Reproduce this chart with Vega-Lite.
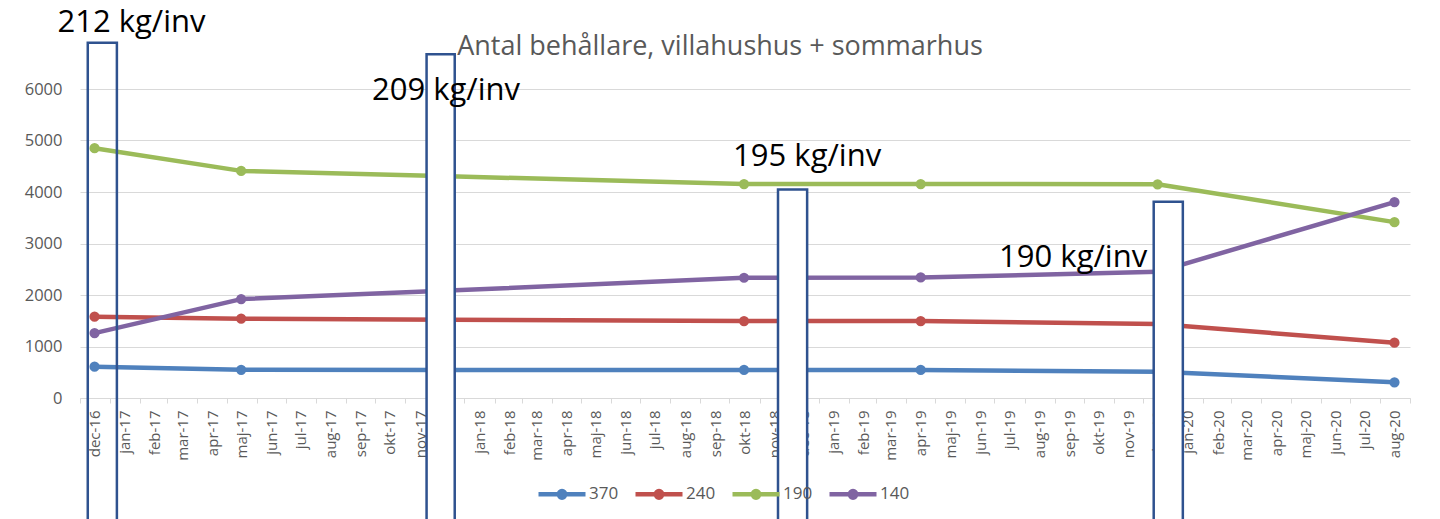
{
  "$schema": "https://vega.github.io/schema/vega-lite/v6.json",
  "width": 1330,
  "height": 309,
  "autosize": {"type": "none"},
  "padding": {"left": 80, "top": 89, "right": 30, "bottom": 121},
  "background": "white",
  "config": {"view": {"stroke": null}, "font": "Open Sans"},
  "title": {
    "text": "Antal behållare, villahushus + sommarhus",
    "font": "Open Sans",
    "fontSize": 27,
    "fontWeight": "normal",
    "color": "#595959",
    "anchor": "middle",
    "frame": "group",
    "baseline": "alphabetic",
    "offset": -75,
    "dx": -25
  },
  "datasets": {
    "antal": [
      {"datum": "2016-12-16", "serie": "370", "antal": 608},
      {"datum": "2017-05-16", "serie": "370", "antal": 548},
      {"datum": "2017-12-16", "serie": "370", "antal": 545},
      {"datum": "2018-10-16", "serie": "370", "antal": 545},
      {"datum": "2019-04-16", "serie": "370", "antal": 545},
      {"datum": "2019-12-16", "serie": "370", "antal": 510},
      {"datum": "2020-08-16", "serie": "370", "antal": 305},
      {"datum": "2016-12-16", "serie": "240", "antal": 1580},
      {"datum": "2017-05-16", "serie": "240", "antal": 1540},
      {"datum": "2017-12-16", "serie": "240", "antal": 1520},
      {"datum": "2018-10-16", "serie": "240", "antal": 1495},
      {"datum": "2019-04-16", "serie": "240", "antal": 1495},
      {"datum": "2019-12-16", "serie": "240", "antal": 1435},
      {"datum": "2020-08-16", "serie": "240", "antal": 1075},
      {"datum": "2016-12-16", "serie": "190", "antal": 4850},
      {"datum": "2017-05-16", "serie": "190", "antal": 4410},
      {"datum": "2017-12-16", "serie": "190", "antal": 4305},
      {"datum": "2018-10-16", "serie": "190", "antal": 4155},
      {"datum": "2019-04-16", "serie": "190", "antal": 4155},
      {"datum": "2019-12-16", "serie": "190", "antal": 4150},
      {"datum": "2020-08-16", "serie": "190", "antal": 3415},
      {"datum": "2016-12-16", "serie": "140", "antal": 1260},
      {"datum": "2017-05-16", "serie": "140", "antal": 1920},
      {"datum": "2017-12-16", "serie": "140", "antal": 2085},
      {"datum": "2018-10-16", "serie": "140", "antal": 2335},
      {"datum": "2019-04-16", "serie": "140", "antal": 2340},
      {"datum": "2019-12-16", "serie": "140", "antal": 2450},
      {"datum": "2020-08-16", "serie": "140", "antal": 3805}
    ],
    "notering": [
      {"etikett": "212 kg/inv", "kg": 212, "fran": "2016-12-09", "till": "2017-01-08", "hojd": 6900, "textdatum": "2017-01-23", "texty": 7105},
      {"etikett": "209 kg/inv", "kg": 209, "fran": "2017-11-23", "till": "2017-12-22", "hojd": 6675, "textdatum": "2017-12-13", "texty": 5785},
      {"etikett": "195 kg/inv", "kg": 195, "fran": "2018-11-20", "till": "2018-12-20", "hojd": 4050, "textdatum": "2018-12-20", "texty": 4510},
      {"etikett": "190 kg/inv", "kg": 190, "fran": "2019-12-12", "till": "2020-01-11", "hojd": 3810, "textdatum": "2019-09-20", "texty": 2550}
    ]
  },
  "layer": [
    {
      "data": {"name": "antal"},
      "mark": {"type": "line", "strokeWidth": 4.5, "strokeCap": "round", "strokeJoin": "round"},
      "encoding": {
        "x": {
          "field": "datum",
          "type": "temporal",
          "scale": {
            "type": "utc",
            "domain": [
              {"year": 2016, "month": 12, "date": 1, "utc": true},
              {"year": 2020, "month": 9, "date": 1, "utc": true}
            ]
          },
          "axis": {
            "title": null,
            "tickCount": {"interval": "month", "step": 1},
            "grid": false,
            "labelAngle": -90,
            "labelAlign": "right",
            "labelBaseline": "middle",
            "labelOffset": 14.8,
            "labelPadding": 7,
            "labelFont": "Open Sans",
            "labelFontSize": 15,
            "labelColor": "#595959",
            "labelOverlap": false,
            "labelFlush": false,
            "labelBound": false,
            "tickColor": "#D9D9D9",
            "tickSize": 5,
            "domainColor": "#D9D9D9",
            "domainWidth": 1,
            "labelExpr": "(utcyear(datum.value) == 2020 && utcmonth(datum.value) == 8) ? '' : ['jan','feb','mar','apr','maj','jun','jul','aug','sep','okt','nov','dec'][utcmonth(datum.value)] + '-' + utcFormat(datum.value, '%y')"
          }
        },
        "y": {
          "field": "antal",
          "type": "quantitative",
          "scale": {"domain": [0, 6000], "nice": false},
          "axis": {
            "title": null,
            "values": [0, 1000, 2000, 3000, 4000, 5000, 6000],
            "format": "d",
            "domain": false,
            "ticks": false,
            "grid": true,
            "gridColor": "#D9D9D9",
            "gridWidth": 1,
            "labelFont": "Open Sans",
            "labelFontSize": 16.5,
            "labelColor": "#595959",
            "labelPadding": 18
          }
        },
        "color": {
          "field": "serie",
          "type": "nominal",
          "scale": {"domain": ["370", "240", "190", "140"], "range": ["#4F81BD", "#C0504D", "#9BBB59", "#8064A2"]},
          "legend": {
            "orient": "none",
            "legendX": 456,
            "legendY": 379,
            "direction": "horizontal",
            "title": null,
            "symbolType": "M-1,0H1M-0.14,0A0.14,0.14,0,1,1,0.14,0A0.14,0.14,0,1,1,-0.14,0Z",
            "symbolSize": 2209,
            "symbolStrokeWidth": 4.5,
            "labelFont": "Open Sans",
            "labelFontSize": 17,
            "labelColor": "#595959",
            "labelOffset": 1,
            "columnPadding": 7,
            "gridAlign": "all",
            "padding": 0,
            "zindex": -1
          }
        }
      }
    },
    {
      "data": {"name": "antal"},
      "mark": {"type": "point", "shape": "circle", "filled": true, "size": 33, "strokeWidth": 4.5, "opacity": 1},
      "encoding": {
        "x": {"field": "datum", "type": "temporal", "scale": {"type": "utc"}},
        "y": {"field": "antal", "type": "quantitative"},
        "color": {
          "field": "serie",
          "type": "nominal",
          "scale": {"domain": ["370", "240", "190", "140"], "range": ["#4F81BD", "#C0504D", "#9BBB59", "#8064A2"]},
          "legend": {
            "orient": "none",
            "legendX": 456,
            "legendY": 379,
            "direction": "horizontal",
            "title": null,
            "symbolType": "M-1,0H1M-0.14,0A0.14,0.14,0,1,1,0.14,0A0.14,0.14,0,1,1,-0.14,0Z",
            "symbolSize": 2209,
            "symbolStrokeWidth": 4.5,
            "labelFont": "Open Sans",
            "labelFontSize": 17,
            "labelColor": "#595959",
            "labelOffset": 1,
            "columnPadding": 7,
            "gridAlign": "all",
            "padding": 0,
            "zindex": -1
          }
        },
        "stroke": {
          "field": "serie",
          "type": "nominal",
          "scale": {"domain": ["370", "240", "190", "140"], "range": ["#4F81BD", "#C0504D", "#9BBB59", "#8064A2"]},
          "legend": null
        }
      }
    },
    {
      "data": {"name": "notering"},
      "mark": {"type": "rect", "stroke": "#2F528F", "strokeWidth": 2.5},
      "encoding": {
        "x": {"field": "fran", "type": "temporal", "scale": {"type": "utc"}},
        "x2": {"field": "till"},
        "y": {"field": "hojd", "type": "quantitative"},
        "y2": {"datum": -2400},
        "fill": {"condition": {"test": "datum.kg == 212", "value": "transparent"}, "value": "white"}
      }
    },
    {
      "data": {"name": "notering"},
      "mark": {"type": "text", "font": "Open Sans", "fontSize": 31, "color": "black", "align": "center", "baseline": "alphabetic"},
      "encoding": {
        "x": {"field": "textdatum", "type": "temporal", "scale": {"type": "utc"}},
        "y": {"field": "texty", "type": "quantitative"},
        "text": {"field": "etikett"}
      }
    }
  ]
}
